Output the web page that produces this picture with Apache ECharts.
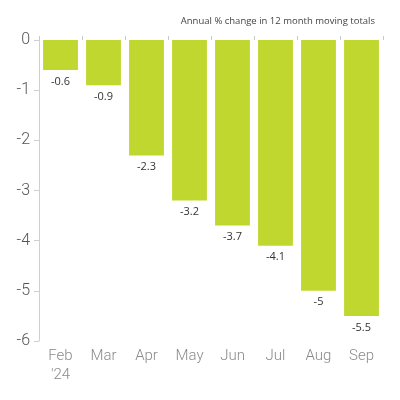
<!DOCTYPE html>
<html>
<head>
<meta charset="utf-8">
<script src="https://cdn.jsdelivr.net/npm/echarts@6/dist/echarts.min.js"></script>
<style>
  html, body { margin: 0; padding: 0; background: #fff; }
  #chart { width: 400px; height: 400px; }
</style>
</head>
<body>
<div id="chart"></div>
<script>
// data
const months = ['Feb\n\'24', 'Mar', 'Apr', 'May', 'Jun', 'Jul', 'Aug', 'Sep']
const changes = [-0.6, -0.9, -2.3, -3.2, -3.7, -4.1, -5, -5.5]
const yTicks = [0, -1, -2, -3, -4, -5, -6]

const chart = echarts.init(document.getElementById('chart'))
chart.setOption({
  animation: false,
  title: {
    text: 'Annual % change in 12 month moving totals',
    right: 20,
    top: 11,
    textStyle: { fontFamily: 'Open Sans', fontSize: 9.5, fontWeight: 'normal', color: '#444' }
  },
  grid: { left: 39, right: 17, top: 40, bottom: 59 },
  xAxis: [
    {
      type: 'category',
      data: months,
      position: 'bottom',
      axisLine: { show: false },
      axisTick: { show: false },
      axisLabel: {
        color: '#8a8a8a',
        fontFamily: 'Roboto',
        fontWeight: 300,
        fontSize: 15,
        lineHeight: 19,
        margin: 6
      }
    },
    {
      // tick marks along the zero line
      type: 'category',
      data: months,
      position: 'top',
      axisLine: { show: false },
      axisTick: { show: true, length: 4, lineStyle: { color: '#c8c8c8' } },
      axisLabel: { show: false }
    }
  ],
  yAxis: {
    type: 'value',
    min: -6,
    max: 0,
    interval: 1,
    splitLine: { show: false },
    axisLine: { show: true, lineStyle: { color: '#cfcfcf' } },
    axisTick: { show: true, length: 5, lineStyle: { color: '#cfcfcf' } },
    axisLabel: {
      color: '#555',
      fontFamily: 'Roboto',
      fontWeight: 300,
      fontSize: 16,
      margin: 9,
      formatter: v => yTicks.includes(v) ? String(v) : ''
    }
  },
  series: [{
    type: 'bar',
    data: changes,
    barWidth: '81%',
    itemStyle: { color: '#c0d72f' },
    label: {
      show: true,
      position: 'bottom',
      distance: 6,
      color: '#333',
      fontFamily: 'Open Sans',
      fontSize: 11,
      formatter: p => String(p.value)
    }
  }]
})
</script>
</body>
</html>
